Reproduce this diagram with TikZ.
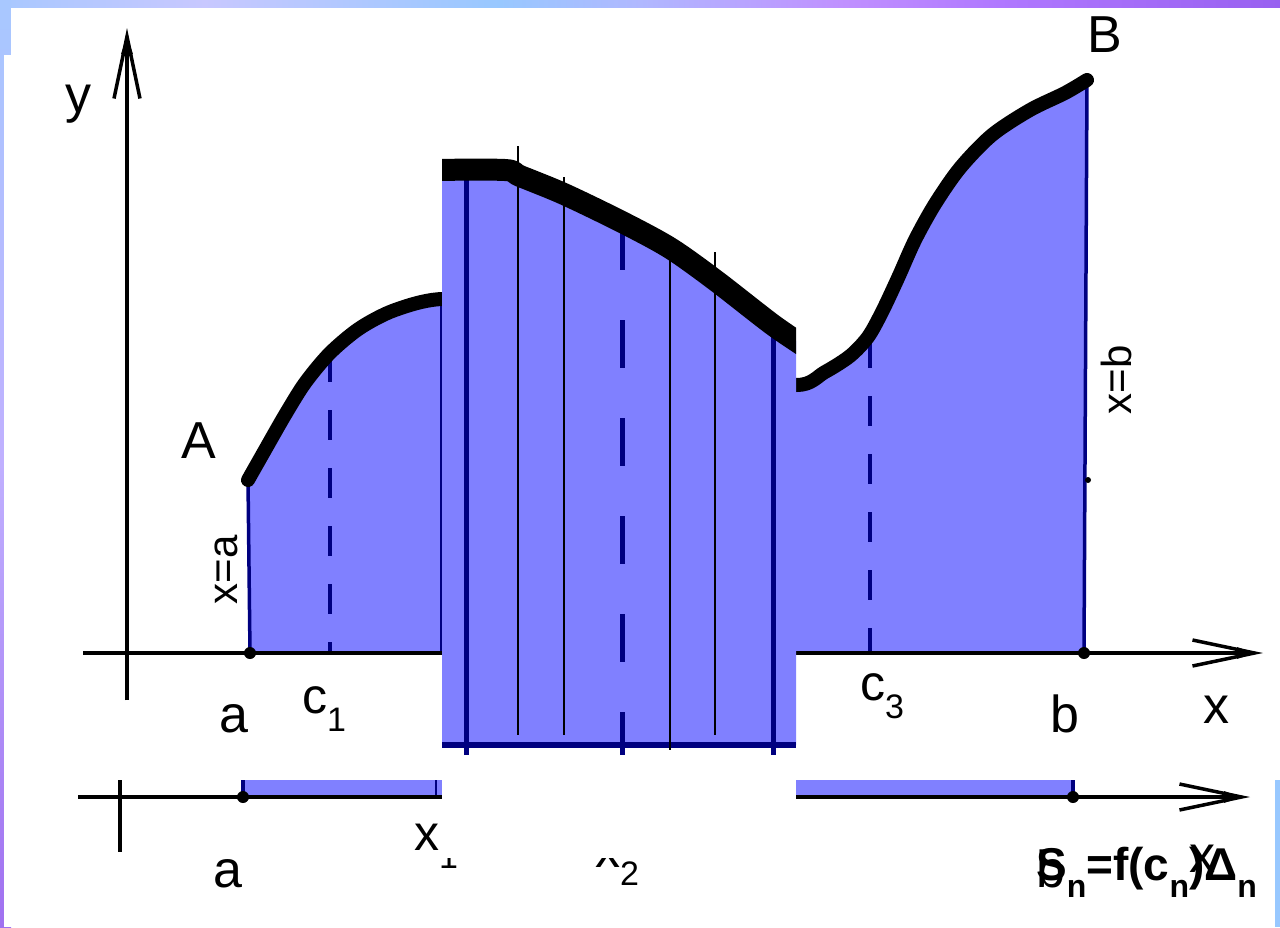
\documentclass[tikz,border=0pt]{standalone}
\usepackage{fontspec}
\setmainfont{Liberation Sans}
\usepackage{xcolor}
\usepackage{tikz}
\usetikzlibrary{arrows.meta}

\definecolor{areablue}{HTML}{8080FF}
\definecolor{navyline}{HTML}{000080}
\definecolor{bandA}{HTML}{A8C8FF}
\definecolor{bandB}{HTML}{C8C8FF}
\definecolor{bandC}{HTML}{98C8FF}
\definecolor{bandD}{HTML}{B0B8FF}
\definecolor{bandE}{HTML}{C090FF}
\definecolor{bandF}{HTML}{B078FF}
\definecolor{bandG}{HTML}{9860F0}
\definecolor{bandMid}{HTML}{C0B0FF}
\definecolor{bandLo}{HTML}{A070F0}

\pgfdeclarehorizontalshading{topband}{100bp}{color(0bp)=(bandA); color(25bp)=(bandA);
  color(33bp)=(bandB); color(44.5bp)=(bandC); color(50bp)=(bandD);
  color(58bp)=(bandE); color(64bp)=(bandF); color(75bp)=(bandG); color(100bp)=(bandG)}
\pgfdeclareverticalshading{leftband}{100bp}{color(0bp)=(bandLo); color(25bp)=(bandLo);
  color(50bp)=(bandMid); color(75bp)=(bandA); color(100bp)=(bandA)}

\newcommand{\idx}[1]{\raisebox{-18pt}{\fontsize{34}{34}\selectfont #1}}
\newcommand{\bidx}[1]{\raisebox{-17pt}{\bfseries\fontsize{32}{32}\selectfont #1}}

\tikzset{
  pix label/.style   = {font=\fontsize{52}{52}\selectfont, inner sep=0pt},
  side label/.style  = {font=\fontsize{42}{42}\selectfont, inner sep=0pt},
  arial label/.style = {font=\fontsize{50}{50}\selectfont, inner sep=0pt},
  sum label/.style   = {font=\bfseries\fontsize{46}{46}\selectfont, inner sep=0pt},
  axis line/.style   = {draw=black, line width=3.5pt},
  axis arr/.style    = {-{Latex[length=26pt,width=12pt]},
                        postaction={draw, -{Straight Barb[length=62pt,width=26pt]}}},
  navy line/.style   = {draw=navyline, line width=3.5pt},
  thick navy/.style  = {draw=navyline, line width=5pt},
  thin navy/.style   = {draw=navyline, line width=1.5pt},
  thin black/.style  = {draw=black, line width=2pt},
  cut dash/.style    = {draw=navyline, line width=4pt, dash pattern=on 30pt off 28pt},
  zoom dash/.style   = {draw=navyline, line width=5pt, dash pattern=on 48pt off 50pt},
  graph curve/.style = {draw=black, line width=14pt, line cap=round, line join=round},
  pt dot/.style      = {circle, fill=black, inner sep=0pt, minimum size=12pt},
  small dot/.style   = {circle, fill=black, inner sep=0pt, minimum size=6pt},
}

\begin{document}
\begin{tikzpicture}[x=1pt, y=-1pt]
  \useasboundingbox (0,0) rectangle (1280,927);

  %% --- slide frame ----------------------------------------------
  \shade[shading=topband] (0,0) rectangle (1280,9);
  \shade[shading=leftband] (0,0) rectangle (11,927);
  \fill[bandC] (1270,770) rectangle (1280,927);

  %% --- lower graph (mostly covered) -----------------------------
  \fill[white] (4,55) rectangle (1275,927);
  \coordinate (la) at (243,797);
  \coordinate (lb) at (1073,797);
  \coordinate (lx1) at (436,797);
  \fill[areablue] (la) rectangle (1073,760);
  \draw[navy line] (la) -- ++(0,-40);
  \draw[navy line] (lb) -- ++(0,-40);
  \draw[thin navy] (lx1) -- ++(0,-40);
  \draw[axis line, axis arr] (78,797) -- (1250,797);
  \draw[axis line] (120,760) -- (120,852);
  \node[pt dot] (la dot) at (la) {};
  \node[pt dot] (lb dot) at (lb) {};
  \node[pix label, anchor=base] (la lbl) at (228,887) {a};
  \node[pix label, anchor=base] (lb lbl) at (1051,887) {b};
  \node[pix label, anchor=base] (lx lbl) at (1202,872) {x};
  \node[arial label, anchor=base west] (x1 lbl) at (414,850) {x\idx{1}};
  \node[arial label, anchor=base west] (x2 lbl) at (595,867) {x\idx{2}};

  %% --- upper graph ----------------------------------------------
  \fill[white] (11,8) rectangle (1280,780);
  \coordinate (A) at (248,480);
  \coordinate (B) at (1087,80);
  \coordinate (a) at (250,653);
  \coordinate (b) at (1084,653);
  \fill[areablue] (a) -- plot[smooth] coordinates {(248,480) (265,450) (285,415)
    (305,383) (330,353) (360,328) (395,310) (442,299) (520,305) (620,335)
    (720,372) (797,385) (825,372) (850,356) (868,337) (882,312) (898,278)
    (915,240) (935,204) (960,168) (992,135) (1030,110) (1065,93) (1087,80)}
    -- (b) -- cycle;
  \draw[navy line] (a) -- (A);
  \draw[navy line] (b) -- (B);
  \draw[thin navy] (441,653) -- (441,300);
  \draw[cut dash] (330,352) -- (330,653);
  \draw[cut dash] (870,338) -- (870,653);
  \draw[axis line, axis arr] (83,653) -- (1263,653);
  \draw[axis line, axis arr] (127,700) -- (127,28);
  \draw[graph curve] plot[smooth] coordinates {(248,480) (265,450) (285,415)
    (305,383) (330,353) (360,328) (395,310) (442,299) (520,305) (620,335)
    (720,372) (797,385) (825,372) (850,356) (868,337) (882,312) (898,278)
    (915,240) (935,204) (960,168) (992,135) (1030,110) (1065,93) (1087,80)};
  \node[pt dot] (A dot) at (A) {};
  \node[pt dot] (B dot) at (B) {};
  \node[pt dot] (a dot) at (a) {};
  \node[pt dot] (b dot) at (b) {};
  \node[small dot] (b mid) at (1088,480) {};

  %% labels
  \node[pix label, anchor=base] (y lbl) at (78,112) {y};
  \node[pix label, anchor=base] (A lbl) at (199,458) {A};
  \node[pix label, anchor=base] (B lbl) at (1105,52) {B};
  \node[pix label, anchor=base] (a lbl) at (234,732) {a};
  \node[pix label, anchor=base] (b lbl) at (1065,732) {b};
  \node[pix label, anchor=base] (x lbl) at (1216,723) {x};
  \node[side label, rotate=90] (xa lbl) at (226,570) {x=a};
  \node[side label, rotate=90] (xb lbl) at (1116,380) {x=b};
  \node[arial label, anchor=base west] (c1 lbl) at (302,713) {c\idx{1}};
  \node[arial label, anchor=base west] (c3 lbl) at (860,700) {c\idx{3}};

  %% --- zoomed strip ---------------------------------------------
  \fill[white] (442,130) rectangle (796,858);
  \begin{scope}
    \clip (442,130) rectangle (796,858);
    \fill[areablue] (430,745) -- plot[smooth] coordinates {(430,170) (505,170)
      (520,176) (564,194) (622,222) (670,248) (715,280) (773,325) (810,350)}
      -- (810,745) -- cycle;
    \draw[thick navy] (466,170) -- (466,755);
    \draw[thick navy] (773,325) -- (773,755);
    \draw[zoom dash] (622,222) -- (622,755);
    \draw[draw=navyline, line width=6pt] (442,745) -- (796,745);
    \draw[graph curve, line width=22pt] plot[smooth] coordinates {(430,170)
      (505,170) (520,176) (564,194) (622,222) (670,248) (715,280) (773,325)
      (810,350)};
    \draw[thin black] (518,146) -- (518,735);
    \draw[thin black] (564,177) -- (564,735);
    \draw[thin black] (670,248) -- (670,750);
    \draw[thin black] (715,252) -- (715,735);
  \end{scope}

  %% formula
  \node[sum label, anchor=base west] (sum lbl) at (1036,880)
    {S\bidx{n}=f(c\bidx{n})Δ\bidx{n}};
\end{tikzpicture}
\end{document}
